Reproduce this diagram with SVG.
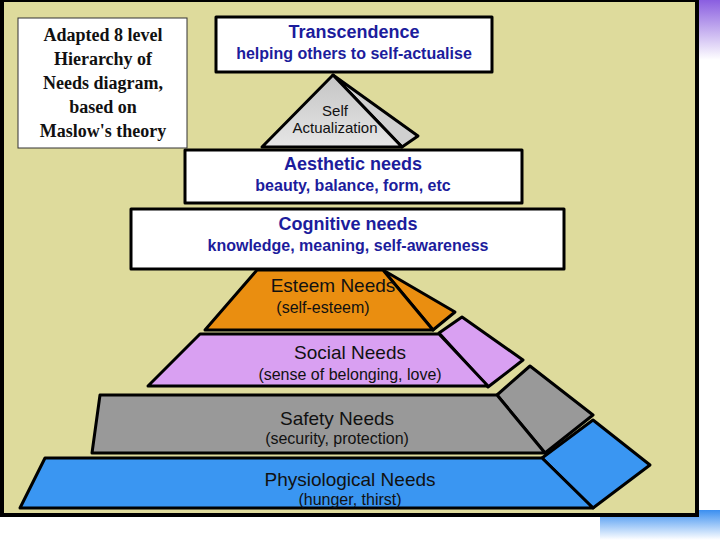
<svg xmlns="http://www.w3.org/2000/svg" width="720" height="540" viewBox="0 0 720 540">
<defs>
<linearGradient id="gb" x1="0" y1="0" x2="0" y2="1"><stop offset="0" stop-color="#3b8ff0"/><stop offset="1" stop-color="#ffffff"/></linearGradient>
<linearGradient id="gp" x1="0" y1="0" x2="0" y2="1"><stop offset="0" stop-color="#8a5ee0"/><stop offset="1" stop-color="#ffffff"/></linearGradient>
<linearGradient id="gtri" x1="0" y1="0" x2="0" y2="1"><stop offset="0" stop-color="#c4c4c4"/><stop offset="1" stop-color="#e6e6e6"/></linearGradient>
</defs>
<style>
.b{stroke:#000;stroke-width:3;stroke-linejoin:round}
.h{font-family:"Liberation Sans",Arial,sans-serif;font-weight:bold;fill:#1c1c9c;text-anchor:middle}
.p{font-family:"Liberation Sans",Arial,sans-serif;fill:#111;text-anchor:middle}
</style>
<rect width="720" height="540" fill="#fff"/>
<rect x="698" y="0" width="22" height="60" fill="url(#gp)"/>
<rect x="600" y="510" width="120" height="30" fill="url(#gb)"/>
<rect x="2" y="0" width="695" height="515" fill="#dedb9c" stroke="#000" stroke-width="4"/>
<g id="physiological">
<polygon class="b" points="542,458 593,420 650,465 593,508" fill="#3a96f2"/>
<polygon class="b" points="45,458 542,458 593,508 20,508" fill="#3a96f2"/>
<text class="p" x="350" y="486" font-size="19" fill="#111">Physiological Needs</text>
<text class="p" x="350" y="505" font-size="16">(hunger, thirst)</text>
</g>
<g id="safety">
<polygon class="b" points="497,395 530,366 593,415 545,453" fill="#999"/>
<polygon class="b" points="100,395 497,395 545,453 92,453" fill="#999"/>
<text class="p" x="337" y="425" font-size="19">Safety Needs</text>
<text class="p" x="337" y="444" font-size="16">(security, protection)</text>
</g>
<g id="social">
<polygon class="b" points="439,333 462,317 523,360 488,387" fill="#d9a0f2"/>
<polygon class="b" points="200,334 439,334 488,386 148,386" fill="#d9a0f2"/>
<text class="p" x="350" y="359" font-size="19">Social Needs</text>
<text class="p" x="350" y="380" font-size="16">(sense of belonging, love)</text>
</g>
<g id="esteem">
<polygon class="b" points="383,270 455,312 433,330" fill="#ea8e10"/>
<polygon class="b" points="257,270 383,270 433,330 205,330" fill="#ea8e10"/>
<text class="p" x="333" y="292" font-size="19">Esteem Needs</text>
<text class="p" x="323" y="313" font-size="16">(self-esteem)</text>
</g>
<g id="cognitive">
<rect class="b" x="131" y="209" width="433" height="60" fill="#fff"/>
<text class="h" x="348" y="230" font-size="18">Cognitive needs</text>
<text class="h" x="348" y="251" font-size="16">knowledge, meaning, self-awareness</text>
</g>
<g id="selfactualization">
<polygon class="b" points="333,75 418,136 402,147" fill="#d0d0d0"/>
<polygon class="b" points="333,75 402,147 262,147" fill="url(#gtri)"/>
<text class="p" x="335" y="116" font-size="15" fill="#222">Self</text>
<text class="p" x="335" y="133" font-size="15" fill="#222">Actualization</text>
</g>
<g id="aesthetic">
<rect class="b" x="185" y="150" width="337" height="53" fill="#fff"/>
<text class="h" x="353" y="170" font-size="18">Aesthetic needs</text>
<text class="h" x="353" y="191" font-size="16" font-weight="normal">beauty, balance, form, etc</text>
</g>
<g id="transcendence">
<rect class="b" x="216" y="17" width="276" height="55" fill="#fff"/>
<text class="h" x="354" y="38" font-size="18">Transcendence</text>
<text class="h" x="354" y="59" font-size="16" font-weight="normal">helping others to self-actualise</text>
</g>
<g id="label">
<rect x="18" y="18" width="169" height="130" fill="#fff" stroke="#333" stroke-width="1"/>
<g font-family="'Liberation Serif','Times New Roman',serif" font-weight="bold" font-size="18" text-anchor="middle" fill="#111">
<text x="103" y="41">Adapted 8 level</text>
<text x="103" y="65">Hierarchy of</text>
<text x="103" y="89">Needs diagram,</text>
<text x="103" y="113">based on</text>
<text x="103" y="137">Maslow's theory</text>
</g>
</g>
<g id="connectors"/>
</svg>
